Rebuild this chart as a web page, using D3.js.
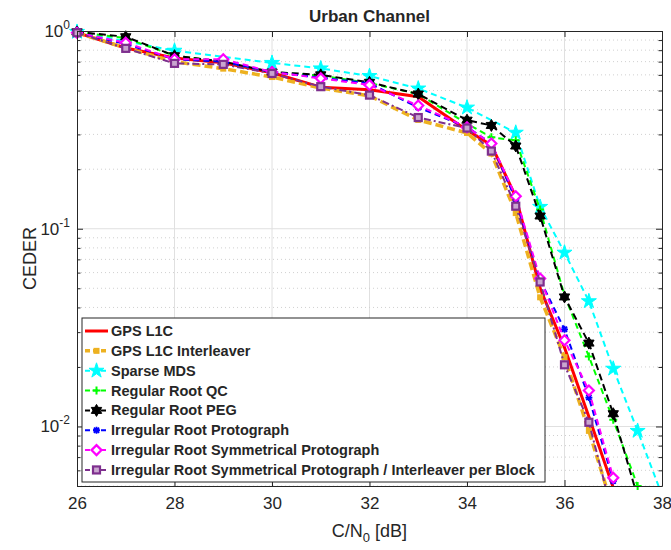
<!DOCTYPE html>
<html>
<head>
<meta charset="utf-8">
<script src="https://cdn.jsdelivr.net/npm/d3@7"></script>
<style>
  body { margin: 0; background: #fff; }
  text { font-family: "Liberation Sans", Arial, Helvetica, sans-serif; fill: #262626; }
</style>
</head>
<body>
<div id="chart"></div>
<script>
// Data
const xMain = [26, 27, 28, 29, 30, 31, 32, 33, 34, 34.5, 35, 35.5, 36, 36.5, 37, 37.5];
const xSparse = [26, 28, 30, 31, 32, 33, 34, 35, 35.5, 36, 36.5, 37, 37.5, 38];

const gpsL1C = [0.98, 0.82, 0.73, 0.69, 0.615, 0.52, 0.505, 0.465, 0.315, 0.265, 0.145, 0.05, 0.0251, 0.0112, 0.0049, 0.0021];
const gpsL1CInterleaver = [0.98, 0.82, 0.70, 0.645, 0.585, 0.515, 0.47, 0.355, 0.305, 0.24, 0.12, 0.045, 0.0224, 0.0095, 0.0038, 0.0015];
const sparseMDS = [0.99, 0.795, 0.69, 0.647, 0.592, 0.512, 0.41, 0.306, 0.129, 0.0757, 0.043, 0.0196, 0.0095, 0.0045];
const regularQC = [0.99, 0.92, 0.75, 0.70, 0.62, 0.595, 0.545, 0.48, 0.34, 0.29, 0.28, 0.125, 0.046, 0.0226, 0.0108, 0.005];
const regularPEG = [0.99, 0.935, 0.75, 0.70, 0.62, 0.60, 0.55, 0.48, 0.354, 0.333, 0.262, 0.116, 0.0452, 0.0264, 0.0116, 0.0044];
const irregularProto = [0.98, 0.86, 0.72, 0.70, 0.62, 0.58, 0.544, 0.41, 0.327, 0.27, 0.14, 0.055, 0.031, 0.014, 0.0053, 0.002];
const irregularSym = [0.98, 0.873, 0.72, 0.72, 0.62, 0.576, 0.533, 0.42, 0.326, 0.27, 0.146, 0.056, 0.0273, 0.0152, 0.0055, 0.002];
const irregularSymInt = [0.98, 0.817, 0.686, 0.678, 0.61, 0.523, 0.474, 0.365, 0.323, 0.247, 0.13, 0.0538, 0.0205, 0.0105, 0.0035, 0.0014];

const xTicks = [26, 28, 30, 32, 34, 36, 38];
const yMajorTicks = [0.01, 0.1, 1];

const series = [
    { name: "GPS L1C", x: xMain, y: gpsL1C, color: "#ff0000", width: 3, dash: null, marker: "none" },
    { name: "GPS L1C Interleaver", x: xMain, y: gpsL1CInterleaver, color: "#edb120", width: 3.5, dash: "8,4", marker: "dot" },
    { name: "Sparse MDS", x: xSparse, y: sparseMDS, color: "#00ffff", width: 2, dash: "6,4", marker: "pentagram" },
    { name: "Regular Root QC", x: xMain, y: regularQC, color: "#00ff00", width: 2, dash: "6,4", marker: "plus" },
    { name: "Regular Root PEG", x: xMain, y: regularPEG, color: "#000000", width: 2, dash: "7,4", marker: "hexagram" },
    { name: "Irregular Root Protograph", x: xMain, y: irregularProto, color: "#0000ff", width: 2, dash: "6,4", marker: "asterisk" },
    { name: "Irregular Root Symmetrical Protograph", x: xMain, y: irregularSym, color: "#ff00ff", width: 2, dash: "6,4", marker: "diamond" },
    { name: "Irregular Root Symmetrical Protograph / Interleaver per Block", x: xMain, y: irregularSymInt, color: "#7e2f8e", width: 2, dash: "7,3,2,3", marker: "square" }
];

const W = 671, H = 550;
const plot = { left: 77, right: 662, top: 31, bottom: 486 };

const svg = d3.select("#chart").append("svg")
    .attr("width", W)
    .attr("height", H);

const x = d3.scaleLinear().domain([26, 38]).range([plot.left, plot.right]);
const y = d3.scaleLog().domain([0.005, 1]).range([plot.bottom, plot.top]);

// minor ticks of the log axis
const yMinorTicks = [];
[0.001, 0.01, 0.1].forEach(d => {
    for (let k = 2; k <= 9; k++) {
        const v = +(d * k).toPrecision(3);
        if (v >= 0.005 && v < 1) yMinorTicks.push(v);
    }
});

// Grid
const grid = svg.append("g");
grid.selectAll(".gx").data(xTicks.slice(1, -1)).enter().append("line")
    .attr("x1", d => x(d)).attr("x2", d => x(d))
    .attr("y1", plot.top).attr("y2", plot.bottom)
    .attr("stroke", "#e0e0e0").attr("stroke-width", 1);
grid.selectAll(".gym").data(yMinorTicks).enter().append("line")
    .attr("x1", plot.left).attr("x2", plot.right)
    .attr("y1", d => y(d)).attr("y2", d => y(d))
    .attr("stroke", "#d0d0d0").attr("stroke-width", 1).attr("stroke-dasharray", "1,3");
grid.selectAll(".gy").data(yMajorTicks.slice(0, -1)).enter().append("line")
    .attr("x1", plot.left).attr("x2", plot.right)
    .attr("y1", d => y(d)).attr("y2", d => y(d))
    .attr("stroke", "#e0e0e0").attr("stroke-width", 1);

// Clip
svg.append("clipPath").attr("id", "clip")
    .append("rect")
    .attr("x", plot.left).attr("y", plot.top)
    .attr("width", plot.right - plot.left).attr("height", plot.bottom - plot.top);

// Marker drawing
function drawMarker(g, type, cx, cy, color) {
    if (type === "none") return;
    if (type === "dot") {
        g.append("rect").attr("x", cx - 3).attr("y", cy - 3).attr("width", 6).attr("height", 6).attr("fill", color);
    } else if (type === "pentagram") {
        g.append("path").attr("d", d3.symbol(d3.symbolStar, 70)())
            .attr("transform", `translate(${cx},${cy})`).attr("fill", color).attr("stroke", color).attr("stroke-width", 1);
    } else if (type === "plus") {
        g.append("path").attr("d", `M${cx - 4},${cy}H${cx + 4}M${cx},${cy - 4}V${cy + 4}`)
            .attr("stroke", color).attr("stroke-width", 2);
    } else if (type === "hexagram") {
        const r = 6, pts1 = [], pts2 = [];
        for (let i = 0; i < 3; i++) {
            const a1 = -Math.PI / 2 + i * 2 * Math.PI / 3;
            const a2 = Math.PI / 2 + i * 2 * Math.PI / 3;
            pts1.push([cx + r * Math.cos(a1), cy + r * Math.sin(a1)]);
            pts2.push([cx + r * Math.cos(a2), cy + r * Math.sin(a2)]);
        }
        g.append("path").attr("d", "M" + pts1.join("L") + "Z M" + pts2.join("L") + "Z")
            .attr("fill", color).attr("stroke", color).attr("stroke-width", 1);
    } else if (type === "asterisk") {
        const r = 3.5, q = 2.6;
        g.append("path").attr("d", `M${cx - r},${cy}H${cx + r}M${cx},${cy - r}V${cy + r}M${cx - q},${cy - q}L${cx + q},${cy + q}M${cx - q},${cy + q}L${cx + q},${cy - q}`)
            .attr("stroke", color).attr("stroke-width", 1.8);
    } else if (type === "diamond") {
        const r = 5;
        g.append("path").attr("d", `M${cx},${cy - r}L${cx + r},${cy}L${cx},${cy + r}L${cx - r},${cy}Z`)
            .attr("fill", "#fff").attr("stroke", color).attr("stroke-width", 2.2);
    } else if (type === "square") {
        g.append("rect").attr("x", cx - 3.5).attr("y", cy - 3.5).attr("width", 7).attr("height", 7)
            .attr("fill", "#c9a6cf").attr("stroke", color).attr("stroke-width", 2.2);
    }
}

// Lines and markers
const line = d3.line().x(d => x(d[0])).y(d => y(d[1]));
series.forEach(s => {
    const pts = s.x.map((v, i) => [v, s.y[i]]);
    svg.append("path")
        .attr("clip-path", "url(#clip)")
        .attr("d", line(pts))
        .attr("fill", "none")
        .attr("stroke", s.color)
        .attr("stroke-width", s.width)
        .attr("stroke-dasharray", s.dash);
    const mg = svg.append("g");
    pts.forEach(p => {
        if (p[1] >= 0.0049) drawMarker(mg, s.marker, x(p[0]), y(p[1]), s.color);
    });
});

// Axes (ticks inside, box on)
const axisColor = "#262626";
svg.append("g")
    .attr("transform", `translate(0,${plot.bottom})`)
    .call(d3.axisBottom(x).tickValues(xTicks).tickSizeInner(-6).tickSizeOuter(0).tickPadding(11))
    .call(g => g.select(".domain").attr("stroke", axisColor))
    .call(g => g.selectAll(".tick line").attr("stroke", axisColor))
    .call(g => g.selectAll("text").style("font-size", "17px").attr("fill", axisColor));
svg.append("g")
    .attr("transform", `translate(0,${plot.top})`)
    .call(d3.axisTop(x).tickValues(xTicks).tickSizeInner(-6).tickSizeOuter(0).tickFormat(""))
    .call(g => g.select(".domain").attr("stroke", axisColor))
    .call(g => g.selectAll(".tick line").attr("stroke", axisColor));

svg.append("g")
    .attr("transform", `translate(${plot.left},0)`)
    .call(d3.axisLeft(y).tickValues(yMajorTicks).tickSizeInner(-6).tickSizeOuter(0).tickFormat(""))
    .call(g => g.select(".domain").attr("stroke", axisColor))
    .call(g => g.selectAll(".tick line").attr("stroke", axisColor));
svg.append("g")
    .attr("transform", `translate(${plot.left},0)`)
    .call(d3.axisLeft(y).tickValues(yMinorTicks).tickSizeInner(-3.5).tickSizeOuter(0).tickFormat(""))
    .call(g => g.select(".domain").remove())
    .call(g => g.selectAll(".tick line").attr("stroke", axisColor));
svg.append("g")
    .attr("transform", `translate(${plot.right},0)`)
    .call(d3.axisRight(y).tickValues(yMajorTicks).tickSizeInner(-6).tickSizeOuter(0).tickFormat(""))
    .call(g => g.select(".domain").attr("stroke", axisColor))
    .call(g => g.selectAll(".tick line").attr("stroke", axisColor));
svg.append("g")
    .attr("transform", `translate(${plot.right},0)`)
    .call(d3.axisRight(y).tickValues(yMinorTicks).tickSizeInner(-3.5).tickSizeOuter(0).tickFormat(""))
    .call(g => g.select(".domain").remove())
    .call(g => g.selectAll(".tick line").attr("stroke", axisColor));

// Y tick labels 10^k
const ylab = svg.append("g");
yMajorTicks.forEach(v => {
    const t = ylab.append("text")
        .attr("x", plot.left - 7)
        .attr("y", y(v) + 6)
        .attr("text-anchor", "end")
        .style("font-size", "17px");
    t.append("tspan").text("10");
    t.append("tspan").text(Math.round(Math.log10(v))).attr("dy", -8).style("font-size", "12px");
});

// Title and axis labels
svg.append("text")
    .attr("x", (plot.left + plot.right) / 2)
    .attr("y", 22)
    .attr("text-anchor", "middle")
    .style("font-size", "17px")
    .style("font-weight", "bold")
    .attr("fill", "#000")
    .text("Urban Channel");

svg.append("text")
    .attr("transform", `translate(36,${(plot.top + plot.bottom) / 2}) rotate(-90)`)
    .attr("text-anchor", "middle")
    .style("font-size", "18px")
    .text("CEDER");

const xl = svg.append("text")
    .attr("x", (plot.left + plot.right) / 2)
    .attr("y", 537)
    .attr("text-anchor", "middle")
    .style("font-size", "18px");
xl.append("tspan").text("C/N");
xl.append("tspan").text("0").attr("dy", 5).style("font-size", "13px");
xl.append("tspan").text(" [dB]").attr("dy", -5);

// Legend
const legend = svg.append("g");
legend.append("rect")
    .attr("x", 82).attr("y", 318)
    .attr("width", 463).attr("height", 164)
    .attr("fill", "#fff")
    .attr("stroke", "#262626")
    .attr("stroke-width", 1);
series.forEach((s, i) => {
    const ry = 331 + i * 19.85;
    legend.append("line")
        .attr("x1", 85).attr("x2", 108)
        .attr("y1", ry).attr("y2", ry)
        .attr("stroke", s.color)
        .attr("stroke-width", s.width)
        .attr("stroke-dasharray", s.dash ? "5,3" : null);
    drawMarker(legend, s.marker, 96.5, ry, s.color);
    legend.append("text")
        .attr("x", 111)
        .attr("y", ry + 5)
        .style("font-size", "14.5px")
        .style("font-weight", "bold")
        .attr("fill", "#000")
        .text(s.name);
});
</script>
</body>
</html>
